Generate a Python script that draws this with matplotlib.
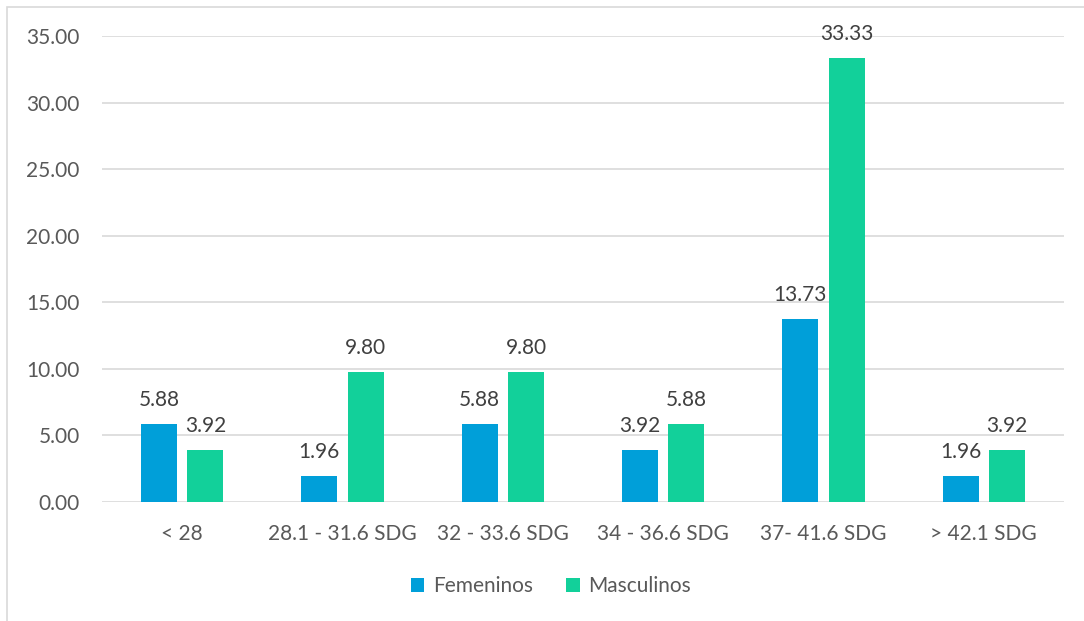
import matplotlib.pyplot as plt
import numpy as np
from matplotlib.patches import Rectangle

# data
categories = ['< 28', '28.1 - 31.6 SDG', '32 - 33.6 SDG', '34 - 36.6 SDG',
              '37- 41.6 SDG', '> 42.1 SDG']
femeninos = [5.88, 1.96, 5.88, 3.92, 13.73, 1.96]
masculinos = [3.92, 9.80, 9.80, 5.88, 33.33, 3.92]

plt.rcParams['font.family'] = ['Lato', 'DejaVu Sans']
txt = '#595959'
fs = 15

fig = plt.figure(figsize=(10.84, 6.21), dpi=100)
ax = fig.add_axes([0.0941, 0.1916, 0.8874, 0.7504])

# outer chart border (only top/left visible in the crop)
fig.patches.append(Rectangle((7 / 1084, -0.1), 1.2, 1 - 7 / 621 + 0.1,
                             transform=fig.transFigure, fill=False,
                             edgecolor='#D9D9D9', linewidth=1.2))

x = np.arange(len(categories))
w = 0.225
off = 0.145
b1 = ax.bar(x - off, femeninos, w, color='#009FD9', label='Femeninos', zorder=3)
b2 = ax.bar(x + off, masculinos, w, color='#12D09A', label='Masculinos', zorder=3)

for bars, vals in [(b1, femeninos), (b2, masculinos)]:
    for r, v in zip(bars, vals):
        ax.annotate('%.2f' % v, (r.get_x() + r.get_width() / 2, v),
                    xytext=(0, 10), textcoords='offset points',
                    ha='center', va='bottom', fontsize=fs, color='#404040',
                    zorder=4)

ax.set_xlim(-0.5, len(categories) - 0.5)
ax.set_ylim(0, 35)
ax.set_yticks(np.arange(0, 36, 5))
ax.set_yticklabels(['%.2f' % t for t in np.arange(0, 36, 5)])
ax.set_xticks(x)
ax.set_xticklabels(categories)
ax.tick_params(axis='y', length=0, pad=16, labelsize=fs, labelcolor=txt)
ax.tick_params(axis='x', length=0, pad=16, labelsize=fs, labelcolor=txt)
ax.grid(axis='y', color='#D9D9D9', linewidth=1.2, zorder=0)
for s in ax.spines.values():
    s.set_visible(False)

leg = fig.legend(handles=[b1, b2], loc='center', bbox_to_anchor=(0.508, 0.056),
                 ncol=2, frameon=False, fontsize=fs, handlelength=0.65,
                 handleheight=0.65, handletextpad=0.4, columnspacing=1.6)
for t in leg.get_texts():
    t.set_color(txt)

fig.savefig('out.png', dpi=100)
